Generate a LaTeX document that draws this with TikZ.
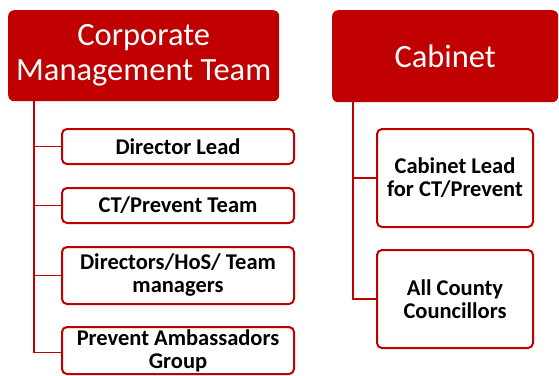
\documentclass[tikz,border=0pt]{standalone}
\usepackage{fontspec}
\setmainfont{Carlito}
\usetikzlibrary{positioning}
\definecolor{boardred}{RGB}{192,0,0}
\tikzset{
  head/.style={fill=boardred, rounded corners=6pt, text=white, align=center,
    font=\fontsize{32.5}{35}\selectfont, inner sep=0pt, anchor=north west},
  member/.style={draw=boardred, line width=2pt, rounded corners=5pt, fill=white,
    align=center, font=\bfseries\fontsize{22.5}{23}\selectfont, inner sep=0pt,
    anchor=north west},
  link/.style={draw=boardred, line width=1.6pt}
}

\begin{document}
\begin{tikzpicture}[x=1pt, y=-1pt]
  \useasboundingbox (0,0) rectangle (559,375);

  % headers
  \node[head, minimum width=271pt, minimum height=91pt] (cmt) at (8,10) {Corporate\\Management Team};
  \node[head, minimum width=226pt, minimum height=92pt] (cab) at (332,10) {Cabinet};

  % corporate side
  \node[member, minimum width=232pt, minimum height=35pt] (lead) at (61,128) {Director Lead};
  \node[member, minimum width=232pt, minimum height=35pt] (ctp) at (61,187) {CT/Prevent Team};
  \node[member, minimum width=232pt, minimum height=57pt] (dirs) at (61,246) {Directors/HoS/ Team\\managers};
  \node[member, minimum width=232pt, minimum height=47pt] (amb) at (61,326) {Prevent Ambassadors\\Group};

  % cabinet side
  \node[member, minimum width=156pt, minimum height=98pt] (cablead) at (376,128) {Cabinet Lead\\for CT/Prevent};
  \node[member, minimum width=156pt, minimum height=98pt] (council) at (376,249) {All County\\Councillors};

  \coordinate (ltrunk) at (34,101);
  \coordinate (rtrunk) at (353,102);

  \draw[link] (ltrunk) |- (lead.west);
  \draw[link] (ltrunk) |- (ctp.west);
  \draw[link] (ltrunk) |- (dirs.west);
  \draw[link] (ltrunk) |- ([yshift=-2pt]amb.west);

  \draw[link] (rtrunk) |- (cablead.west);
  \draw[link] (rtrunk) |- (council.west);
\end{tikzpicture}
\end{document}
